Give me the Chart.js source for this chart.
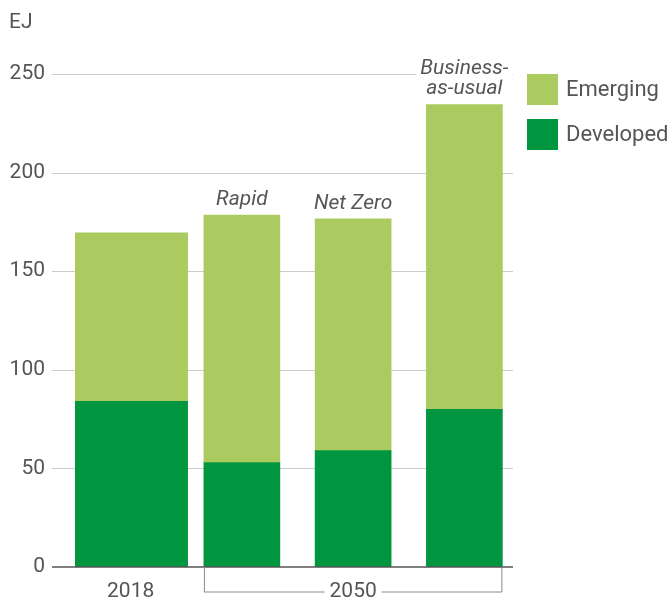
<!DOCTYPE html>
<html>
<head>
<meta charset="utf-8">
<script src="https://cdn.jsdelivr.net/npm/chart.js@4/dist/chart.umd.min.js"></script>
<style>
  html, body { margin: 0; padding: 0; background: #fff; }
  #wrap { width: 672px; height: 601px; }
</style>
</head>
<body>
<div id="wrap"><canvas id="c" width="672" height="601"></canvas></div>
<script>
// Datos (EJ)
const scenarios = ["2018", "Rapid", "Net Zero", "Business-as-usual"];
const scenarioTitles = [null, ["Rapid"], ["Net Zero"], ["Business-", "as-usual"]];
const developed = [84, 53, 59, 80];
const emerging = [85.5, 125.5, 117.5, 154.5];
const yTicks = [0, 50, 100, 150, 200, 250];
const legendItems = ["Emerging", "Developed"];

const GREEN = "#00963f";
const LIGHT = "#abcb60";
const TXT = "#555555";
const FONT = "Roboto, 'Liberation Sans', sans-serif";

// separo 2018 (barra ancha) de 2050 (barras angostas)
const only2018 = (arr) => arr.map((v, i) => (i === 0 ? v : null));
const only2050 = (arr) => arr.map((v, i) => (i === 0 ? null : v));

// Plugin para rejilla, eje, corchete 2050, etiquetas y leyenda
const decor = {
  id: "decor",
  beforeDatasetsDraw(chart) {
    const { ctx } = chart;
    const y = chart.scales.y;
    ctx.save();
    ctx.strokeStyle = "#cccccc";
    ctx.lineWidth = 1;
    yTicks.forEach((t) => {
      if (t === 0) return;
      const py = Math.round(y.getPixelForValue(t)) + 0.5;
      ctx.beginPath();
      ctx.moveTo(52, py);
      ctx.lineTo(513, py);
      ctx.stroke();
    });
    ctx.restore();
  },
  afterDatasetsDraw(chart) {
    const { ctx } = chart;
    const y = chart.scales.y;
    const y0 = y.getPixelForValue(0);
    ctx.save();
    // eje X
    ctx.strokeStyle = "#555";
    ctx.lineWidth = 1.5;
    ctx.beginPath();
    ctx.moveTo(52, y0);
    ctx.lineTo(513, y0);
    ctx.stroke();

    // corchete 2050
    const top = chart.getDatasetMeta(3).data;
    const left = top[1].x - top[1].width / 2;
    const right = top[3].x + top[3].width / 2;
    const mid = top[2].x;
    const by = y0 + 25;
    ctx.font = "21px " + FONT;
    const tw = ctx.measureText("2050").width / 2 + 5;
    ctx.strokeStyle = "#888";
    ctx.lineWidth = 1;
    ctx.beginPath();
    ctx.moveTo(left + 0.5, y0);
    ctx.lineTo(left + 0.5, by);
    ctx.lineTo(mid - tw, by);
    ctx.moveTo(mid + tw, by);
    ctx.lineTo(right - 0.5, by);
    ctx.lineTo(right - 0.5, y0);
    ctx.stroke();

    // títulos de escenarios en cursiva
    ctx.font = "italic 21px " + FONT;
    ctx.textAlign = "center";
    ctx.textBaseline = "bottom";
    scenarioTitles.forEach((lines, i) => {
      if (!lines) return;
      const bar = top[i];
      let ly = bar.y - 5;
      for (let k = lines.length - 1; k >= 0; k--) {
        const w = ctx.measureText(lines[k]).width;
        ctx.fillStyle = "#fff";
        ctx.fillRect(bar.x - w / 2 - 4, ly - 20, w + 8, 20);
        ctx.fillStyle = TXT;
        ctx.fillText(lines[k], bar.x, ly);
        ly -= 20;
      }
    });

    // unidad
    ctx.font = "21px " + FONT;
    ctx.textAlign = "left";
    ctx.textBaseline = "middle";
    ctx.fillStyle = TXT;
    ctx.fillText("EJ", 9, 23);

    // leyenda
    const colors = [LIGHT, GREEN];
    legendItems.forEach((name, i) => {
      const ty = 74 + i * 45;
      ctx.fillStyle = colors[i];
      ctx.fillRect(527, ty, 31, 31);
      ctx.fillStyle = TXT;
      ctx.font = "22px " + FONT;
      ctx.fillText(name, 566, ty + 16);
    });
    ctx.restore();
  },
};

new Chart(document.getElementById("c"), {
  type: "bar",
  data: {
    labels: scenarios,
    datasets: [
      { label: "Developed", data: only2018(developed), backgroundColor: GREEN, barThickness: 114, stack: "s" },
      { label: "Emerging", data: only2018(emerging), backgroundColor: LIGHT, barThickness: 114, stack: "s" },
      { label: "Developed", data: only2050(developed), backgroundColor: GREEN, barThickness: 76, stack: "s" },
      { label: "Emerging", data: only2050(emerging), backgroundColor: LIGHT, barThickness: 76, stack: "s" },
    ],
  },
  options: {
    responsive: false,
    animation: false,
    layout: { padding: { left: 8, right: 152, top: 74, bottom: 0 } },
    plugins: { legend: { display: false }, tooltip: { enabled: false } },
    scales: {
      x: {
        stacked: true,
        grid: { display: false, drawTicks: false },
        border: { display: false },
        afterFit: (s) => { s.height = 34; s.paddingLeft = 0; s.paddingRight = 0; },
        ticks: {
          padding: 12,
          color: TXT,
          font: { size: 21, family: FONT },
          maxRotation: 0,
          autoSkip: false,
          callback: (v, i) => (i === 0 ? "2018" : i === 2 ? "2050" : ""),
        },
      },
      y: {
        stacked: true,
        min: 0,
        max: 250,
        grid: { display: false, drawTicks: false },
        border: { display: false },
        afterFit: (s) => { s.width = 67; s.paddingTop = 0; s.paddingBottom = 0; },
        afterBuildTicks: (s) => { s.ticks = yTicks.map((v) => ({ value: v })); },
        ticks: { padding: 30, color: TXT, font: { size: 21, family: FONT } },
      },
    },
  },
  plugins: [decor],
});
</script>
</body>
</html>
